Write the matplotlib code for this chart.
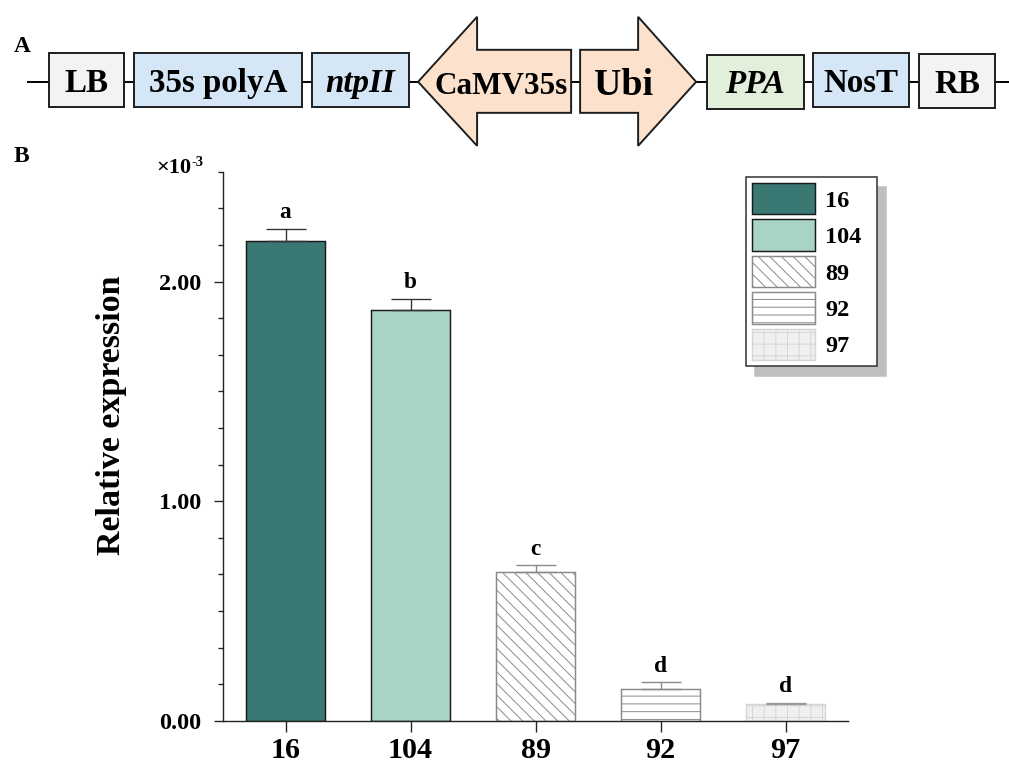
import matplotlib.pyplot as plt
from matplotlib.patches import Rectangle, Polygon
from matplotlib.ticker import MultipleLocator, FormatStrFormatter

DPI = 140  # hatch spacing follows the dpi, this one gives the right density

# expression data (units of 1e-3)
lines = ["16", "104", "89", "92", "97"]
expression = [2.185, 1.869, 0.677, 0.144, 0.076]
errors = [0.055, 0.053, 0.032, 0.032, 0.005]
groups = ["a", "b", "c", "d", "d"]

face_colors = ["#3a7973", "#a7d4c6", "white", "white", "#f0f0f0"]
edge_colors = ["#1a1a1a", "#1a1a1a", "#8a8a8a", "#8a8a8a", "#d6d6d6"]
hatches = ["", "", "\\\\\\\\", "---", "++"]
err_colors = ["#333333", "#333333", "#8a8a8a", "#8a8a8a", "#9a9a9a"]

# vector map (panel A)
elements = ["LB", "35s polyA", "ntpII", "CaMV35s", "Ubi", "PPA", "NosT", "RB"]
element_kind = ["box", "box", "box", "left", "right", "box", "box", "box"]
element_italic = [False, False, True, False, False, True, False, False]
element_colors = ["#f3f3f3", "#d5e6f6", "#d5e6f6", "#fce2cd",
                  "#fce2cd", "#e2efda", "#d5e6f6", "#f3f3f3"]
element_sizes = [17, 17, 17, 16, 19.5, 17, 17, 17]
# layout of the map in pixels: left, right, top, bottom, text x, baseline
element_box = [(49, 124, 53, 107, 86, 92), (134, 302, 53, 107, 218, 92),
               (312, 409, 53, 107, 360, 92), (418, 571, 50, 113, 501, 94),
               (580, 696, 50, 113, 623, 95), (707, 804, 55, 109, 755, 93),
               (813, 909, 53, 107, 861, 92), (919, 995, 54, 108, 957, 93)]

plt.rcParams["font.family"] = "Liberation Serif"
plt.rcParams["font.weight"] = "bold"
plt.rcParams["axes.labelweight"] = "bold"
plt.rcParams["hatch.linewidth"] = 0.5

fig = plt.figure(figsize=(1009.2 / DPI, 766.2 / DPI), dpi=DPI)

# pixel-coordinate canvas for the map and the panel letters
canvas = fig.add_axes([0, 0, 1, 1])
canvas.set_xlim(0, 1009)
canvas.set_ylim(766, 0)
canvas.axis("off")

canvas.plot([28, 1009], [82, 82], color="black", lw=1.0, zorder=1)
for name, kind, ital, fc, size, (x0, x1, y0, y1, tx, ty) in zip(
        elements, element_kind, element_italic, element_colors, element_sizes,
        element_box):
    if kind == "box":
        canvas.add_patch(Rectangle((x0, y0), x1 - x0, y1 - y0, fc=fc,
                                   ec="#1e1e1e", lw=1.0, zorder=2))
    elif kind == "left":
        hb = x0 + 59
        pts = [(x0, 82), (hb, 17), (hb, y0), (x1, y0), (x1, y1), (hb, y1), (hb, 146)]
        canvas.add_patch(Polygon(pts, closed=True, fc=fc, ec="#1e1e1e", lw=1.0, zorder=2))
    else:
        hb = x1 - 58
        pts = [(x0, y0), (hb, y0), (hb, 17), (x1, 82), (hb, 146), (hb, y1), (x0, y1)]
        canvas.add_patch(Polygon(pts, closed=True, fc=fc, ec="#1e1e1e", lw=1.0, zorder=2))
    canvas.text(tx, ty, name, ha="center", va="baseline", fontsize=size,
                style="italic" if ital else "normal", zorder=3)

canvas.text(14, 52, "A", fontsize=12, va="baseline", ha="left")
canvas.text(14, 162, "B", fontsize=12, va="baseline", ha="left")
canvas.text(191, 173, "\u00d710", fontsize=11.5, va="baseline", ha="right")
canvas.text(191, 166, "-3", fontsize=7.5, va="baseline", ha="left")

# bar chart (panel B)
ax = fig.add_axes([223 / 1009, 45.3 / 766, 625 / 1009, 548.7 / 766])
x = list(range(len(lines)))
bars = ax.bar(x, expression, width=0.63, color=face_colors,
              edgecolor=edge_colors, linewidth=0.75, label=lines)
for bar, h in zip(bars, hatches):
    bar.set_hatch(h)

for xi, val, err, c, g in zip(x, expression, errors, err_colors, groups):
    ax.errorbar(xi, val, yerr=[[0], [err]], fmt="none", ecolor=c,
                elinewidth=0.7, capsize=10.3, capthick=0.7)
    ax.annotate(g, (xi, val + err), xytext=(0, 5.5), textcoords="offset points",
                ha="center", va="baseline", fontsize=12)

ax.set_xlim(-0.5, 4.5)
ax.set_ylim(0, 2.5)
ax.set_xticks(x)
ax.set_xticklabels(lines, fontsize=15.5)
ax.yaxis.set_major_locator(MultipleLocator(1))
ax.yaxis.set_minor_locator(MultipleLocator(1 / 6))
ax.yaxis.set_major_formatter(FormatStrFormatter("%.2f"))
ax.tick_params(axis="y", which="major", length=4.6, width=0.7, pad=6.5,
               labelsize=12.5, color="#222222")
ax.tick_params(axis="y", which="minor", length=2.6, width=0.7, color="#222222")
ax.tick_params(axis="x", length=5.7, width=0.7, pad=2.5, color="#222222")
for side in ["top", "right"]:
    ax.spines[side].set_visible(False)
for side in ["left", "bottom"]:
    ax.spines[side].set_linewidth(0.72)
    ax.spines[side].set_color("#222222")

ax.set_ylabel("Relative expression", fontsize=17.5)
ax.yaxis.set_label_coords(-0.154, 0.557)

leg = ax.legend(handles=list(bars), labels=lines, loc="upper left",
                bbox_to_anchor=(746 / 1009, 1 - 369 / 766, 131 / 1009, 192 / 766),
                bbox_transform=fig.transFigure, mode="expand", fontsize=12.5,
                handlelength=2.59, handleheight=1.62, labelspacing=0.2,
                borderpad=0.25, handletextpad=0.41, borderaxespad=0,
                fancybox=False, framealpha=1,
                shadow={"ox": 4.6, "oy": -5.1, "facecolor": "#bfbfbf",
                        "edgecolor": "#bfbfbf", "alpha": 1})
leg.get_frame().set_edgecolor("#333333")
leg.get_frame().set_linewidth(0.8)

fig.savefig("out.png", dpi=DPI)
